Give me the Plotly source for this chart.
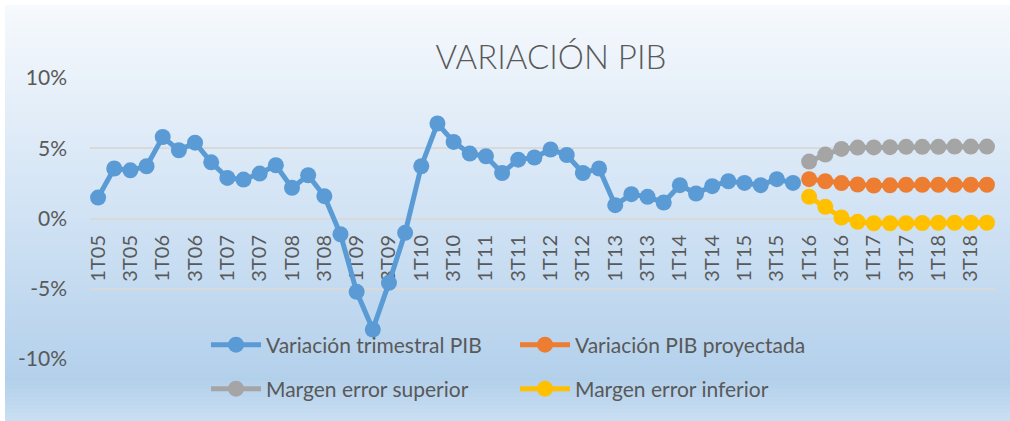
import plotly.graph_objects as go

# ---- data ----
quarters = [f"{q}T{y:02d}" for y in range(5, 19) for q in range(1, 5)]
tick_labels = quarters[::2]

var_trimestral = [1.49, 3.56, 3.43, 3.72, 5.80, 4.86, 5.40, 4.00, 2.89, 2.77, 3.20, 3.79,
                  2.18, 3.08, 1.59, -1.12, -5.22, -7.90, -4.58, -1.02, 3.72, 6.76, 5.45, 4.62,
                  4.43, 3.24, 4.19, 4.34, 4.91, 4.52, 3.24, 3.56, 0.95, 1.73, 1.54, 1.14,
                  2.37, 1.78, 2.30, 2.65, 2.53, 2.37, 2.80, 2.53]
var_proyectada = [2.80, 2.65, 2.52, 2.42, 2.35, 2.36, 2.40, 2.40, 2.40, 2.40, 2.40, 2.40]
margen_superior = [4.05, 4.55, 4.95, 5.05, 5.06, 5.08, 5.10, 5.10, 5.10, 5.12, 5.12, 5.12]
margen_inferior = [1.54, 0.83, 0.07, -0.24, -0.34, -0.34, -0.33, -0.32, -0.31, -0.30, -0.30, -0.30]

y_ticks = [-10, -5, 0, 5, 10]
y_tick_text = ["-10%", "-5%", "0%", "5%", "10%"]

hist_x = quarters[:len(var_trimestral)]
proj_x = quarters[len(var_trimestral):]

# ---- style ----
W, H = 1010, 421
L, R, T, B = 90, 15, 78, 62
PW, PH = W - L - R, H - T - B
TXT = "#595959"
FONT = "Lato"

def px_x(p):
    return (p - L) / PW

def px_y(p):
    return (H - B - p) / PH

def lerp(c1, c2, t):
    return tuple(round(a + (b - a) * t) for a, b in zip(c1, c2))

stops = [(5, (246, 249, 253)), (220, (208, 226, 244)), (380, (179, 208, 235)), (421, (202, 223, 242))]

def grad_color(p):
    for (p0, c0), (p1, c1) in zip(stops[:-1], stops[1:]):
        if p0 <= p <= p1:
            return lerp(c0, c1, (p - p0) / (p1 - p0))
    return stops[-1][1]

shapes = []
step = 4
p = 5
while p < H:
    c = grad_color(p + step / 2)
    shapes.append(dict(type="rect", xref="paper", yref="paper", layer="below",
                       x0=px_x(5), x1=px_x(W + 5), y0=px_y(min(p + step + 0.5, H + 2)), y1=px_y(p),
                       line=dict(width=0), fillcolor="rgb(%d,%d,%d)" % c))
    p += step

fig = go.Figure()

def add(name, x, y, color, legend):
    fig.add_trace(go.Scatter(x=x, y=y, name=name, mode="lines+markers",
                             line=dict(color=color, width=5),
                             marker=dict(color=color, size=16),
                             legend=legend))

add("Variación trimestral PIB", hist_x, var_trimestral, "#5B9BD5", "legend")
add("Variación PIB proyectada", proj_x, var_proyectada, "#ED7D31", "legend")
add("Margen error superior", proj_x, margen_superior, "#A5A5A5", "legend2")
add("Margen error inferior", proj_x, margen_inferior, "#FFC000", "legend2")

leg_common = dict(orientation="h", xanchor="left", yanchor="middle",
                  entrywidth=244, entrywidthmode="pixels",
                  font=dict(family=FONT, size=21, color=TXT),
                  bgcolor="rgba(0,0,0,0)", itemwidth=50)

fig.update_layout(
    width=W, height=H,
    margin=dict(l=L, r=R, t=T, b=B),
    paper_bgcolor="white",
    plot_bgcolor="rgba(0,0,0,0)",
    shapes=shapes,
    font=dict(family=FONT, color=TXT),
    title=dict(text="VARIACIÓN PIB", x=px_x(551), xanchor="center", xref="paper",
               y=1 - 57 / H, yanchor="middle",
               font=dict(family=FONT, size=33, color=TXT, weight=300)),
    showlegend=True,
    legend=dict(x=px_x(206), y=px_y(345), **leg_common),
    legend2=dict(x=px_x(206), y=px_y(389), **leg_common),
    xaxis=dict(type="category", categoryorder="array", categoryarray=quarters,
               range=[-0.5, len(quarters) - 0.5],
               tickvals=tick_labels, ticktext=tick_labels, tickangle=-90,
               tickfont=dict(family=FONT, size=20, color=TXT),
               showgrid=False, showline=False, zeroline=False, ticks="",
               ticklabelstandoff=12,
               anchor="free", position=px_y(218), layer="below traces"),
    yaxis=dict(range=[-10, 10], tickvals=y_ticks, ticktext=y_tick_text,
               tickfont=dict(family=FONT, size=21, color=TXT),
               showgrid=True, gridcolor="#D9D9D9", gridwidth=2,
               zeroline=False, showline=False, ticks="", ticklabelstandoff=22),
)

fig.write_html("out.html", config={"displayModeBar": False},
               post_script="document.body.style.margin='0';")
